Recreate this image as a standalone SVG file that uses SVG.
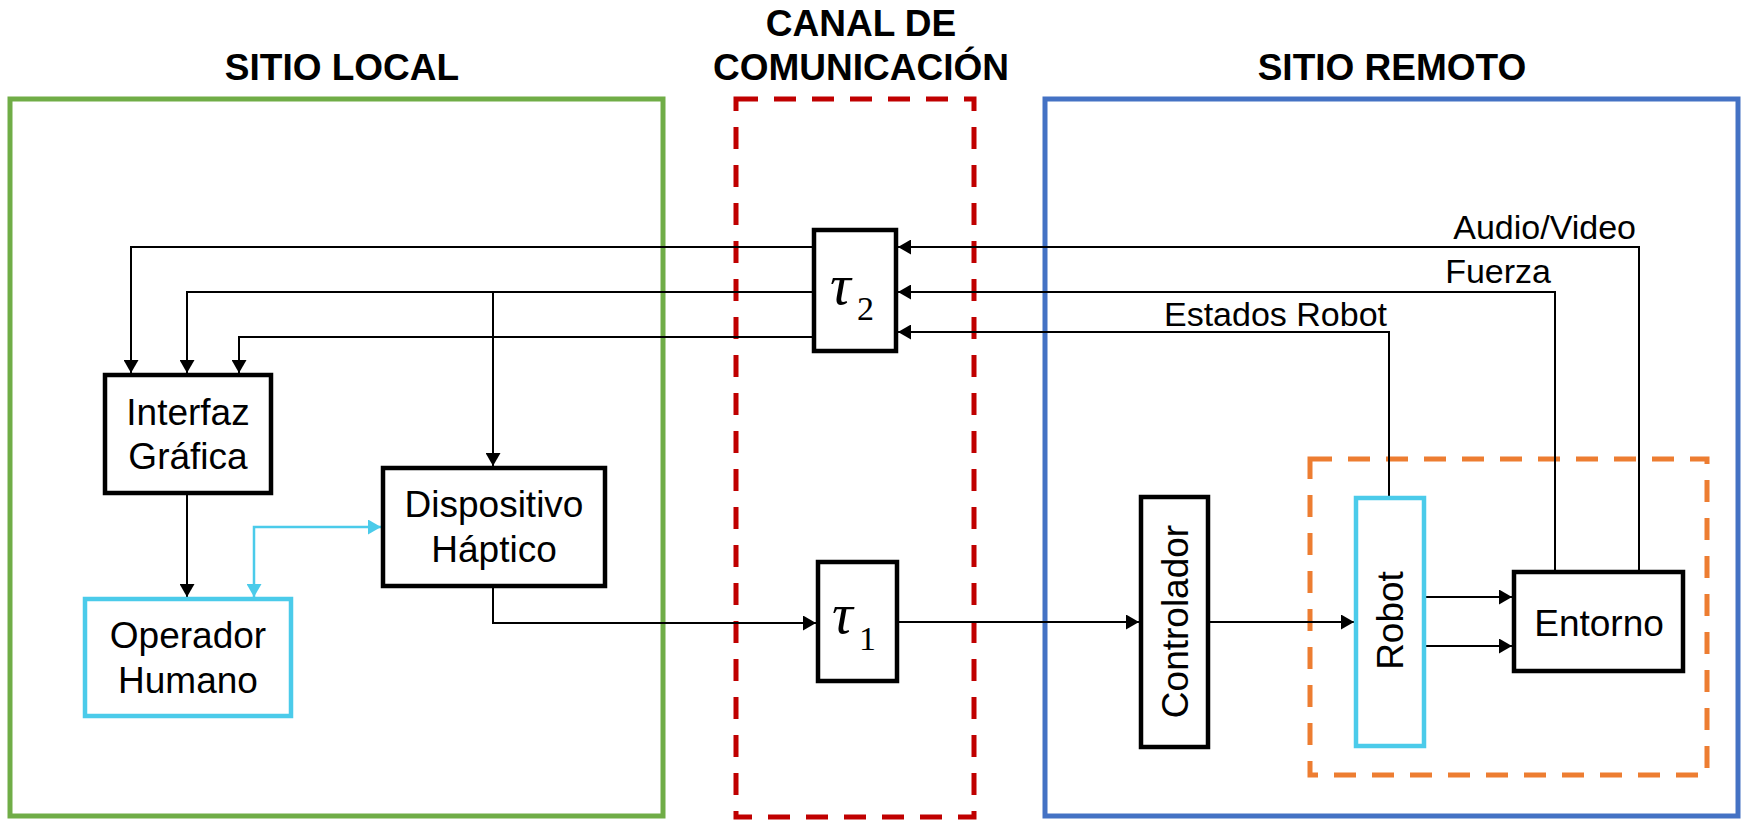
<svg xmlns="http://www.w3.org/2000/svg" width="1741" height="820" viewBox="0 0 1741 820">
<defs>
<style>
.title{font-family:"Liberation Sans",Arial,sans-serif;font-weight:bold;font-size:37px;fill:#000;text-anchor:middle}
.node{font-family:"Liberation Sans",Arial,sans-serif;font-size:37px;fill:#000;text-anchor:middle}
.lbl{font-family:"Liberation Sans",Arial,sans-serif;font-size:34px;fill:#000;text-anchor:end}
.tau{font-family:"Liberation Serif","Times New Roman",serif;font-style:italic;font-size:58px;fill:#000}
.sub{font-family:"Liberation Serif","Times New Roman",serif;font-size:34px;fill:#000}
.box{fill:#fff;stroke:#000;stroke-width:4.5}
.cbox{fill:#fff;stroke:#4BCBEA;stroke-width:4.5}
.conn{fill:none;stroke:#000;stroke-width:2}
.cconn{fill:none;stroke:#4BCBEA;stroke-width:2.5}
</style>
<marker id="ah" markerUnits="userSpaceOnUse" markerWidth="15" markerHeight="15" refX="13" refY="7.5" orient="auto">
<path d="M0,0 L13,7.5 L0,15 z" fill="#000"/>
</marker>
<marker id="ahc" markerUnits="userSpaceOnUse" markerWidth="15" markerHeight="15" refX="13" refY="7.5" orient="auto-start-reverse">
<path d="M0,0 L13,7.5 L0,15 z" fill="#4BCBEA"/>
</marker>
</defs>
<rect width="1741" height="820" fill="#fff"/>

<g id="regions">
<rect x="10" y="99" width="653" height="717" fill="none" stroke="#70AD47" stroke-width="5"/>
<rect x="736" y="99" width="238" height="718" fill="none" stroke="#C00000" stroke-width="5" stroke-dasharray="22 16"/>
<rect x="1045" y="99" width="693" height="717" fill="none" stroke="#4472C4" stroke-width="5"/>
<rect x="1310" y="459" width="397" height="316" fill="none" stroke="#ED7D31" stroke-width="5" stroke-dasharray="22 16"/>
<text class="title" x="342" y="80">SITIO LOCAL</text>
<text class="title" x="861" y="36">CANAL DE</text>
<text class="title" x="861" y="80">COMUNICACIÓN</text>
<text class="title" x="1392" y="80">SITIO REMOTO</text>
</g>

<g id="connectors">
<path class="conn" d="M1639,571 V247 H898" marker-end="url(#ah)"/>
<path class="conn" d="M1555,571 V292 H898" marker-end="url(#ah)"/>
<path class="conn" d="M1389,496 V332 H898" marker-end="url(#ah)"/>
<path class="conn" d="M812,247 H131 V373" marker-end="url(#ah)"/>
<path class="conn" d="M812,292 H187 V373" marker-end="url(#ah)"/>
<path class="conn" d="M812,337 H239 V373" marker-end="url(#ah)"/>
<path class="conn" d="M493,292 V466" marker-end="url(#ah)"/>
<path class="conn" d="M187,495 V597" marker-end="url(#ah)"/>
<path class="cconn" d="M254,597 V527 H381" marker-start="url(#ahc)" marker-end="url(#ahc)"/>
<path class="conn" d="M493,588 V623 H816" marker-end="url(#ah)"/>
<path class="conn" d="M899,622 H1139" marker-end="url(#ah)"/>
<path class="conn" d="M1210,622 H1354" marker-end="url(#ah)"/>
<path class="conn" d="M1426,597 H1512" marker-end="url(#ah)"/>
<path class="conn" d="M1426,646 H1512" marker-end="url(#ah)"/>
<text class="lbl" x="1636" y="239">Audio/Video</text>
<text class="lbl" x="1551" y="283">Fuerza</text>
<text class="lbl" x="1387" y="326">Estados Robot</text>
</g>

<g id="tau2">
<rect class="box" x="814" y="230" width="82" height="121"/>
<text class="tau" x="830" y="304">τ</text>
<text class="sub" x="857" y="320">2</text>
</g>
<g id="tau1">
<rect class="box" x="818" y="562" width="79" height="119"/>
<text class="tau" x="832" y="633">τ</text>
<text class="sub" x="859" y="650">1</text>
</g>
<g id="interfaz">
<rect class="box" x="105" y="375" width="166" height="118"/>
<text class="node" x="188" y="425">Interfaz</text>
<text class="node" x="188" y="469">Gráfica</text>
</g>
<g id="dispositivo">
<rect class="box" x="383" y="468" width="222" height="118"/>
<text class="node" x="494" y="517">Dispositivo</text>
<text class="node" x="494" y="562">Háptico</text>
</g>
<g id="operador">
<rect class="cbox" x="85" y="599" width="206" height="117"/>
<text class="node" x="188" y="648">Operador</text>
<text class="node" x="188" y="693">Humano</text>
</g>
<g id="controlador">
<rect class="box" x="1141" y="497" width="67" height="250"/>
<text class="node" transform="translate(1188,621.5) rotate(-90)">Controlador</text>
</g>
<g id="robot">
<rect class="cbox" x="1356" y="498" width="68" height="248"/>
<text class="node" transform="translate(1403,620.5) rotate(-90)">Robot</text>
</g>
<g id="entorno">
<rect class="box" x="1514" y="572" width="169" height="99"/>
<text class="node" x="1599" y="636">Entorno</text>
</g>
</svg>
